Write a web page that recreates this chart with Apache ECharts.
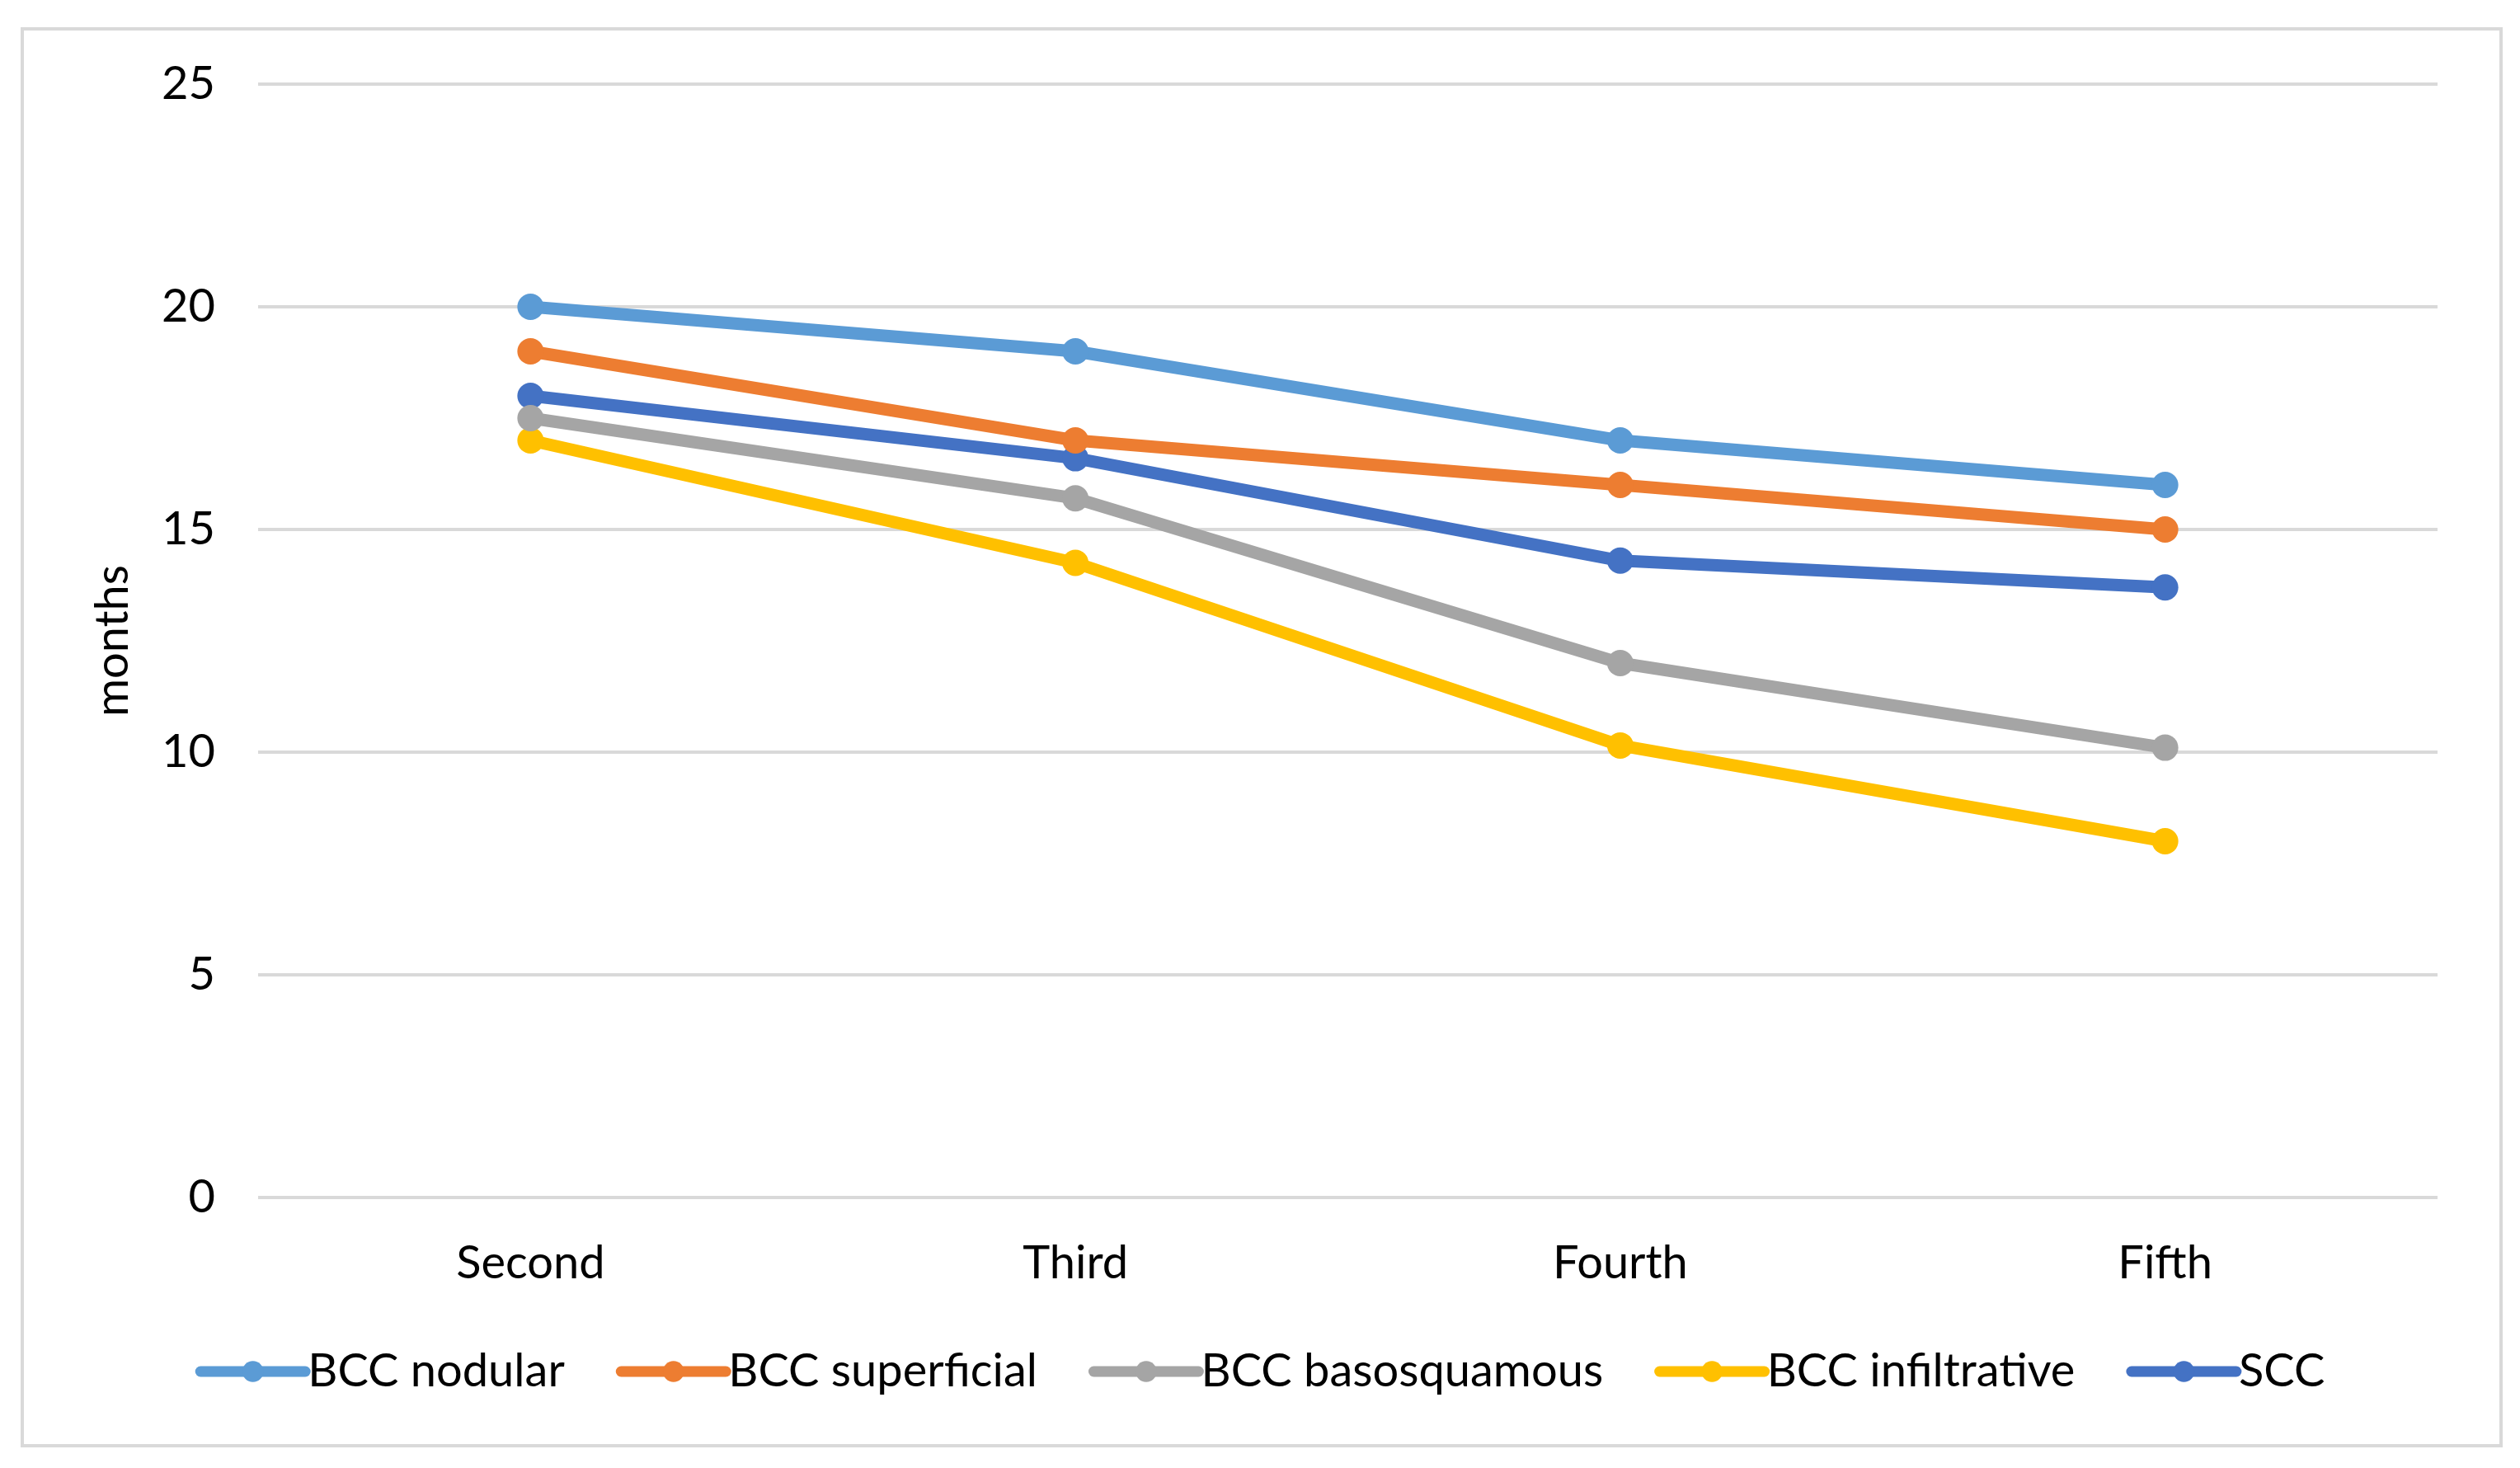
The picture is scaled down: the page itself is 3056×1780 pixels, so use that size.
<!DOCTYPE html>
<html>
<head>
<meta charset="utf-8">
<script src="https://cdn.jsdelivr.net/npm/echarts@6/dist/echarts.min.js"></script>
<style>
html,body{margin:0;padding:0;background:#fff;}
#chart{width:3056px;height:1780px;}
</style>
</head>
<body>
<div id="chart"></div>
<script>
const categories = ['Second', 'Third', 'Fourth', 'Fifth'];
const yTicks = [0, 5, 10, 15, 20, 25];
const bccNodular = [20, 19, 17, 16];
const bccSuperficial = [19, 17, 16, 15];
const bccBasosquamous = [17.5, 15.7, 12, 10.1];
const bccInfiltrative = [17, 14.25, 10.15, 8];
const scc = [18, 16.6, 14.3, 13.7];

const seriesNames = ['BCC nodular', 'BCC superficial', 'BCC basosquamous', 'BCC infiltrative', 'SCC'];
const seriesData = [bccNodular, bccSuperficial, bccBasosquamous, bccInfiltrative, scc];
const colors = ['#5B9BD5', '#ED7D31', '#A5A5A5', '#FFC000', '#4472C4'];

const FONT = 'Lato';
const chart = echarts.init(document.getElementById('chart'), null, {renderer: 'canvas'});
chart.setOption({
  backgroundColor: '#ffffff',
  animation: false,
  color: colors,
  graphic: [{
    type: 'rect',
    shape: {x: 27, y: 35, width: 3006, height: 1718},
    style: {fill: 'none', stroke: '#d9d9d9', lineWidth: 4},
    silent: true,
    z: -1
  }],
  grid: {left: 313, right: 100, top: 102, bottom: 328, containLabel: false},
  legend: {
    bottom: 84,
    left: 'center',
    itemWidth: 127,
    itemHeight: 32,
    itemGap: 62,
    lineStyle: {width: 13, cap: 'round'},
    textStyle: {fontFamily: FONT, fontSize: 56, color: '#000', padding: [0, 0, 0, -2]},
    data: seriesNames
  },
  xAxis: {
    type: 'category',
    data: categories,
    boundaryGap: true,
    axisLine: {show: false},
    axisTick: {show: false},
    axisLabel: {fontFamily: FONT, fontSize: 56, color: '#000', margin: 52}
  },
  yAxis: {
    type: 'value',
    min: yTicks[0],
    max: yTicks[yTicks.length - 1],
    interval: 5,
    name: 'months',
    nameLocation: 'middle',
    nameGap: 148,
    nameTextStyle: {fontFamily: FONT, fontSize: 56, color: '#000'},
    axisLine: {show: false},
    axisTick: {show: false},
    axisLabel: {fontFamily: FONT, fontSize: 56, color: '#000', margin: 52},
    splitLine: {lineStyle: {color: '#d9d9d9', width: 4}}
  },
  series: seriesNames.map((name, i) => ({
    name: name,
    type: 'line',
    data: seriesData[i],
    symbol: 'circle',
    symbolSize: 32,
    lineStyle: {width: 15, color: colors[i], cap: 'round', join: 'round'},
    itemStyle: {color: colors[i]},
    z: 10 - i
  }))
});
</script>
</body>
</html>
